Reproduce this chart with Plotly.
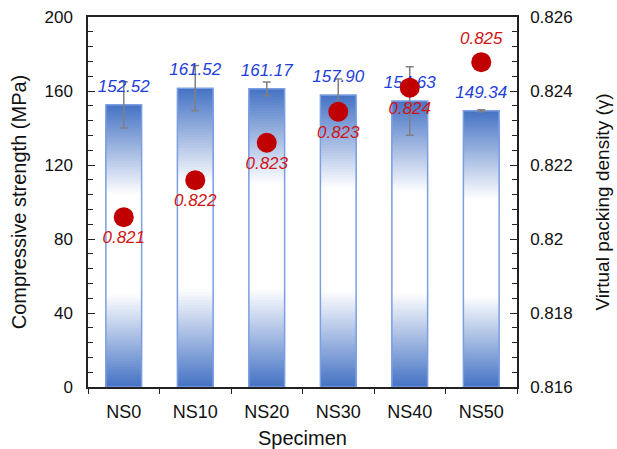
import plotly.graph_objects as go

specimens = ["NS0", "NS10", "NS20", "NS30", "NS40", "NS50"]
strength = [152.52, 161.52, 161.17, 157.90, 154.63, 149.34]
strength_err = [12.5, 12.2, 3.7, 8.6, 18.5, 0.5]
density = [0.82059, 0.82159, 0.82260, 0.82344, 0.82409, 0.82478]
density_labels = ["0.821", "0.822", "0.823", "0.823", "0.824", "0.825"]

FONT = "Arial, Liberation Sans, sans-serif"
DARK = (68, 114, 196)
WHITE = (255, 255, 255)


def grad_color(f):
    # bottom dark -> white (0.33..0.68) -> top dark
    if f < 0.33:
        t = f / 0.33
    elif f <= 0.68:
        t = 1.0
    else:
        t = 1 - (f - 0.68) / 0.32
    t = max(0.0, min(1.0, t))
    c = [round(DARK[i] + (WHITE[i] - DARK[i]) * t) for i in range(3)]
    return f"rgb({c[0]},{c[1]},{c[2]})"


fig = go.Figure()
N = 110
# nested slices: tallest first, each shorter one drawn on top of it
for k in range(N - 1, -1, -1):
    f = (k + 0.5) / N
    fig.add_trace(go.Bar(
        x=specimens,
        y=[v * (k + 1) / N for v in strength],
        width=0.5,
        marker=dict(color=grad_color(f), line=dict(width=0)),
        showlegend=False, hoverinfo="skip",
    ))

# outline
fig.add_trace(go.Bar(
    x=specimens, y=strength, width=0.5,
    marker=dict(color="rgba(0,0,0,0)", line=dict(color="#7C9FE2", width=1.5)),
    showlegend=False, hoverinfo="skip",
))

# value labels + error bars
fig.add_trace(go.Scatter(
    x=specimens, y=strength, mode="markers+text",
    marker=dict(size=12, opacity=0),
    text=[f"{v:.2f}" for v in strength], textposition="top center",
    textfont=dict(family=FONT, size=17, color="#1E3EDC", style="italic"),
    error_y=dict(type="data", array=strength_err, color="#808080", thickness=1.5, width=4),
    showlegend=False, hoverinfo="skip",
))

# packing density points
fig.add_trace(go.Scatter(
    x=specimens, y=density, yaxis="y2", mode="markers+text",
    marker=dict(size=20, color="#C00000"),
    text=density_labels,
    textposition=["bottom center"] * 5 + ["top center"],
    textfont=dict(family=FONT, size=17, color="#D01515", style="italic"),
    showlegend=False, hoverinfo="skip",
))

fig.update_layout(
    width=617, height=449,
    margin=dict(l=88, r=100, t=17, b=62, autoexpand=False),
    plot_bgcolor="white", paper_bgcolor="white",
    barmode="overlay", bargap=0.5,
    font=dict(family=FONT, size=17, color="#111"),
    xaxis=dict(
        type="category", range=[-0.5, 5.5], tickson="boundaries",
        ticks="outside", ticklen=5, tickcolor="#222", tickwidth=1.2,
        showline=True, linecolor="#222", linewidth=1.5, mirror=True,
        showgrid=False, tickfont=dict(size=18), ticklabelstandoff=8,
        automargin=False,
        title=dict(text="Specimen", font=dict(size=20), standoff=10),
    ),
    yaxis=dict(
        range=[0, 200], dtick=40, ticks="inside", ticklen=7, tickcolor="#222",
        tickwidth=1.2, showline=True, linecolor="#222", linewidth=1.5,
        showgrid=False, zeroline=False, ticklabelstandoff=10, automargin=False,
        minor=dict(dtick=8, ticks="inside", ticklen=5, tickcolor="#222", tickwidth=1),
        title=dict(text="Compressive strength (MPa)", font=dict(size=20), standoff=12),
    ),
    yaxis2=dict(
        overlaying="y", side="right", range=[0.816, 0.826], dtick=0.002,
        ticks="inside", ticklen=7, tickcolor="#222", tickwidth=1.2,
        showline=True, linecolor="#222", linewidth=1.5,
        showgrid=False, zeroline=False, ticklabelstandoff=8, automargin=False,
        minor=dict(dtick=0.0004, ticks="inside", ticklen=5, tickcolor="#222", tickwidth=1),
        title=dict(text="Virtual packing density (γ)", font=dict(size=19), standoff=24),
    ),
)

fig.write_html("out.html")
